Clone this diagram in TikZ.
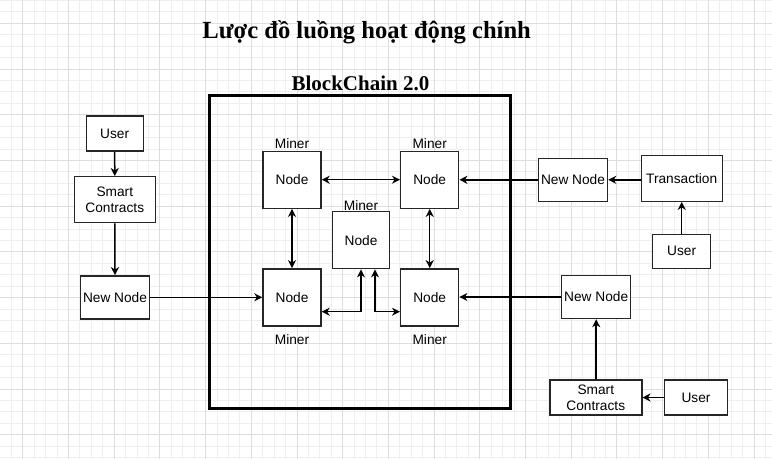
\documentclass[tikz,border=0pt]{standalone}
\usepackage{fontspec}
\setmainfont{Liberation Serif}
\newfontfamily\arialf{Liberation Sans}
\usetikzlibrary{arrows.meta}
\definecolor{gridminor}{HTML}{EFEFEF}
\definecolor{gridmajor}{HTML}{DEDEDE}
\begin{document}
\begin{tikzpicture}[x=1pt,y=-1pt,>={Stealth[length=8pt,width=8pt,inset=2.5pt]},
  box/.style={draw=black!85,line width=1.4pt,fill=white,inner sep=0pt,align=center,
    font=\arialf\fontsize{13.7}{16}\selectfont},
  lbl/.style={inner sep=0pt,font=\arialf\fontsize{13.7}{16}\selectfont},
  link/.style={line width=1.5pt}]
\useasboundingbox (0,0) rectangle (772,459);
\fill[white] (0,0) rectangle (772,459);
% grid
\foreach \i in {-2,...,66} \draw[gridminor,line width=0.8pt] ({22.7+11.425*\i},0)--++(0,459);
\foreach \j in {-2,...,39} \draw[gridminor,line width=0.8pt] (0,{23.3+11.425*\j})--++(772,0);
\foreach \i in {0,...,16} \draw[gridmajor,line width=0.8pt] ({22.7+45.7*\i},0)--++(0,459);
\foreach \j in {0,...,9} \draw[gridmajor,line width=0.8pt] (0,{23.3+45.7*\j})--++(772,0);
\node[font=\bfseries\fontsize{24.6}{29}\selectfont] (title) at (366.7,32) {Lược đồ luồng hoạt động chính};
\node[font=\bfseries\fontsize{21}{25}\selectfont] (chainlbl) at (360.5,83.5) {BlockChain 2.0};
\draw[line width=2.6pt] (209.3,95.7) rectangle (510.7,408.3);
% miners
\node[box,minimum width=58,minimum height=57] (nTL) at (292,179.7) {Node};
\node[box,minimum width=58,minimum height=57] (nTR) at (429.7,179.7) {Node};
\node[box,minimum width=57,minimum height=57] (nC) at (361,240.2) {Node};
\node[box,minimum width=58,minimum height=57] (nBL) at (292,297.3) {Node};
\node[box,minimum width=58,minimum height=57] (nBR) at (429.7,297.3) {Node};
\node[lbl] (mTL) at (292,144) {Miner};
\node[lbl] (mTR) at (429.7,144) {Miner};
\node[lbl] (mC) at (361,205.7) {Miner};
\node[lbl] (mBL) at (292,339.3) {Miner};
\node[lbl] (mBR) at (429.7,339.3) {Miner};
% left side
\node[box,minimum width=57,minimum height=35] (userL) at (114.7,133.5) {User};
\node[box,minimum width=81,minimum height=46] (scL) at (114.8,199.7) {Smart\\Contracts};
\node[box,minimum width=69,minimum height=43] (newL) at (115,297.3) {New Node};
% right side
\node[box,minimum width=69,minimum height=43] (newA) at (573,179.8) {New Node};
\node[box,minimum width=81,minimum height=46] (trans) at (681.7,178.2) {Transaction};
\node[box,minimum width=58,minimum height=34] (userR) at (681.7,251.2) {User};
\node[box,minimum width=69,minimum height=43] (newB) at (596.2,297) {New Node};
\node[box,minimum width=92,minimum height=35] (scB) at (595.8,397.5) {Smart\\Contracts};
\node[box,minimum width=63,minimum height=35] (userB) at (696,397.5) {User};
% links
\draw[link,<->] (nTL)--(nTR);
\draw[link,<->] (nTL)--(nBL);
\draw[link,<->] (nTR)--(nBR);
\draw[link,<->] ([yshift=-14.4pt]nBL.east) -| (nC.south);
\draw[link,<->] ([xshift=14pt]nC.south) |- ([yshift=-14.4pt]nBR.west);
\draw[link,->] (userL)--(scL);
\draw[link,->] (scL)--(newL);
\draw[link,->] (newL)--(nBL);
\draw[link,->] (trans.west |- newA.east)--(newA.east);
\draw[link,->] (userR)--(trans);
\draw[link,->] (newA.west)--(nTR.east |- newA.west);
\draw[link,->] (newB)--(nBR.east |- newB.west);
\draw[link,->] (scB.north -| newB)--(newB.south);
\draw[link,->] (userB)--(scB);
\end{tikzpicture}
\end{document}
